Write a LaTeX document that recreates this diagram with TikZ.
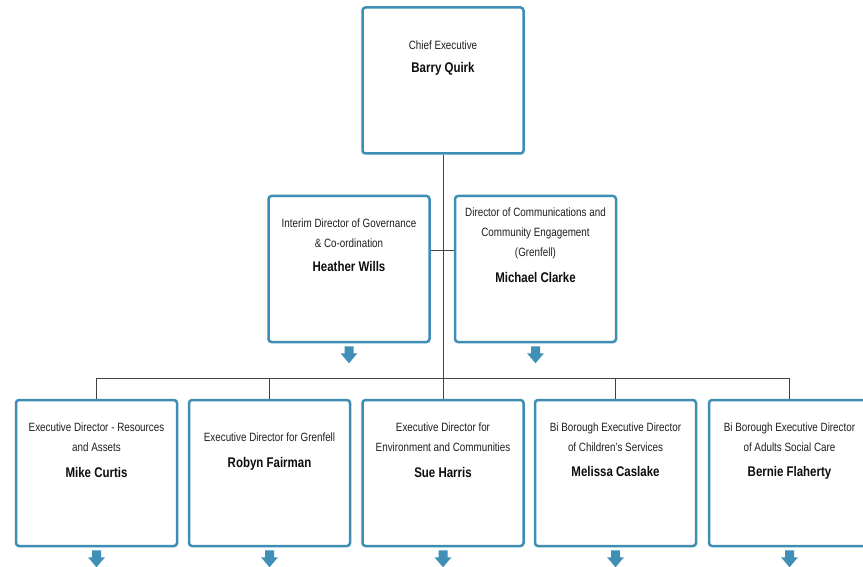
\documentclass[tikz,border=0pt]{standalone}
\usepackage{fontspec}
\setmainfont{Liberation Sans}[FakeStretch=0.82]
\usetikzlibrary{calc}
\definecolor{boxblue}{HTML}{3E8DB4}
\definecolor{arrowblue}{HTML}{3F8FB6}
\definecolor{linegray}{HTML}{444444}
\newcommand\orgarrow[1]{\fill[arrowblue] ($(#1.south)+(-4.5,3)$) -- ($(#1.south)+(4.5,3)$) -- ($(#1.south)+(4.5,10)$) -- ($(#1.south)+(8.5,10)$) -- ($(#1.south)+(0,20)$) -- ($(#1.south)+(-8.5,10)$) -- ($(#1.south)+(-4.5,10)$) -- cycle;}
\begin{document}
\begin{tikzpicture}[x=1pt,y=-1pt,
  post/.style={draw=boxblue, line width=2.5pt, rounded corners=3pt, fill=white,
    minimum width=161pt, minimum height=146pt, inner sep=0pt},
  title/.style={anchor=north, align=center, inner sep=0pt,
    font=\fontsize{12}{20}\selectfont, text=black!88},
  who/.style={anchor=base, inner sep=0pt, font=\fontsize{14}{16}\selectfont\bfseries, text=black!95},
  link/.style={draw=linegray, line width=0.8pt}]
\useasboundingbox (0,0) rectangle (863,567);
\clip (0,0) rectangle (863,567);

% boxes
\node[post] (ceo)  at (443,80.5) {};
\node[post] (gov)  at (349,269) {};
\node[post] (comm) at (535.5,269) {};
\node[post] (b1) at (96.5,473) {};
\node[post] (b2) at (269.5,473) {};
\node[post] (b3) at (443,473) {};
\node[post] (b4) at (615.5,473) {};
\node[post] (b5) at (789.5,473) {};

% connectors
\coordinate (bus) at (443,378);
\coordinate (side) at (443,250);
\draw[link] (ceo.south) -- (b3.north);
\draw[link] (gov.east |- side) -- (comm.west |- side);
\draw[link] (b1.north) -- (b1.north |- bus) -- (b5.north |- bus) -- (b5.north);
\draw[link] (b2.north) -- (b2.north |- bus);
\draw[link] (b4.north) -- (b4.north |- bus);

% arrows
\orgarrow{gov}
\orgarrow{comm}
\orgarrow{b1}
\orgarrow{b2}
\orgarrow{b3}
\orgarrow{b4}
\orgarrow{b5}

% texts
\node[title] (ceot) at (443,40.5) {Chief Executive};
\node[who] (ceon) at (443,73) {Barry Quirk};

\node[title] (govt) at (349,218.5) {Interim Director of Governance\\\& Co-ordination};
\node[who] (govn) at (349,272) {Heather Wills};

\node[title] (commt) at (535.5,207.5) {Director of Communications and\\Community Engagement\\(Grenfell)};
\node[who] (commn) at (535.5,282) {Michael Clarke};

\node[title] (b1t) at (96.5,422.5) {Executive Director - Resources\\and Assets};
\node[who] (b1n) at (96.5,477) {Mike Curtis};

\node[title] (b2t) at (269.5,432.5) {Executive Director for Grenfell};
\node[who] (b2n) at (269.5,467) {Robyn Fairman};

\node[title] (b3t) at (443,422.5) {Executive Director for\\Environment and Communities};
\node[who] (b3n) at (443,477) {Sue Harris};

\node[title] (b4t) at (615.5,422.5) {Bi Borough Executive Director\\of Children's Services};
\node[who] (b4n) at (615.5,476) {Melissa Caslake};

\node[title] (b5t) at (789.5,422.5) {Bi Borough Executive Director\\of Adults Social Care};
\node[who] (b5n) at (789.5,476) {Bernie Flaherty};
\end{tikzpicture}
\end{document}
